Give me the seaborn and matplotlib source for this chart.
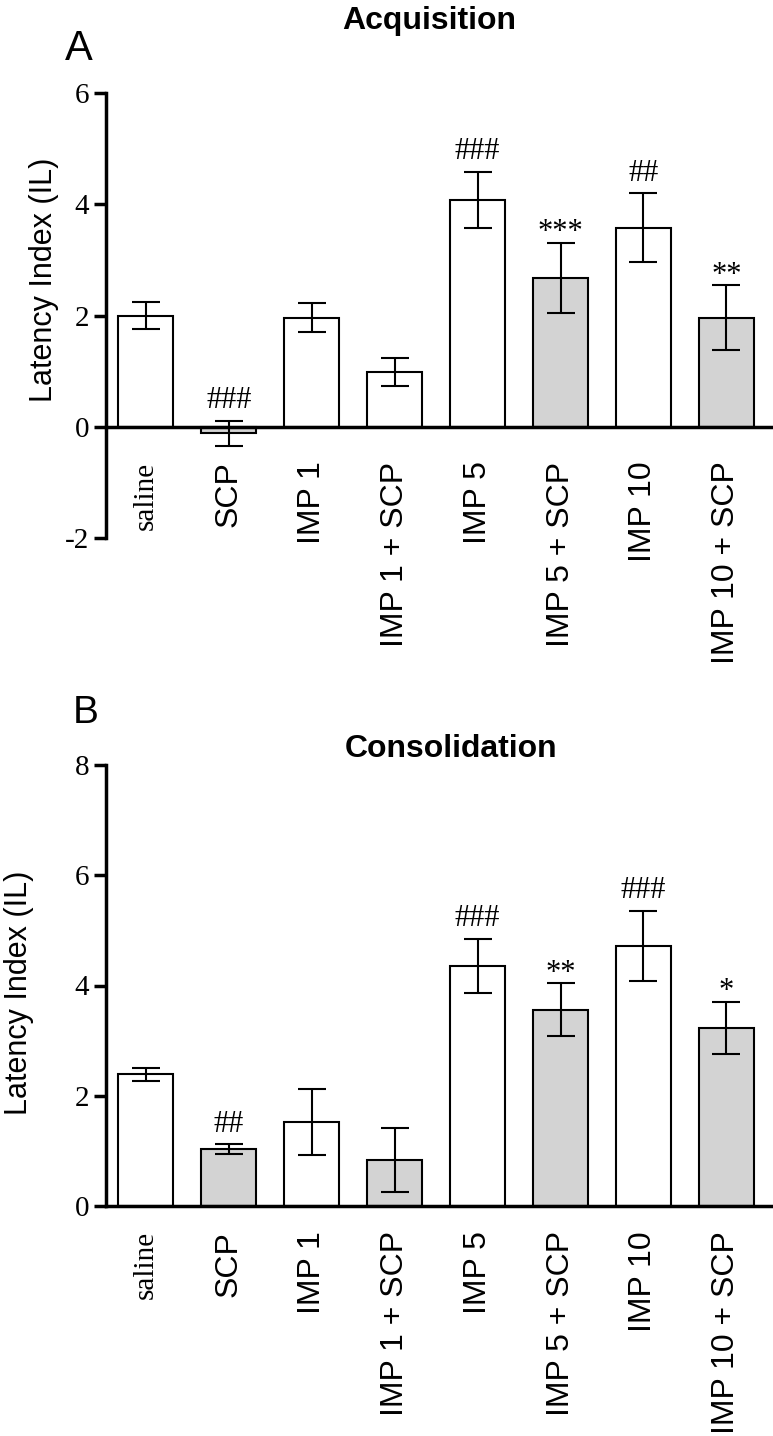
import matplotlib
matplotlib.use("Agg")
import matplotlib.pyplot as plt
import seaborn as sns
import pandas as pd
import numpy as np

# ---------------- data ----------------
groups = ["saline", "SCP", "IMP 1", "IMP 1 + SCP", "IMP 5", "IMP 5 + SCP",
          "IMP 10", "IMP 10 + SCP"]

acq_mean = [2.00, -0.12, 1.96, 0.99, 4.08, 2.68, 3.58, 1.96]
acq_sem = [0.24, 0.23, 0.26, 0.25, 0.50, 0.63, 0.62, 0.58]
acq_marks = ["", "###", "", "", "###", "***", "##", "**"]
acq_fill = ["white", "lightgray", "white", "white", "white", "lightgray",
            "white", "lightgray"]

con_mean = [2.39, 1.03, 1.52, 0.83, 4.36, 3.56, 4.72, 3.23]
con_sem = [0.12, 0.09, 0.60, 0.58, 0.49, 0.48, 0.64, 0.47]
con_marks = ["", "##", "", "", "###", "**", "###", "*"]
con_fill = ["white", "lightgray", "white", "lightgray", "white", "lightgray",
            "white", "lightgray"]

acq_yticks = [-2, 0, 2, 4, 6]
con_yticks = [0, 2, 4, 6, 8]

# ---------------- style ----------------
sns.set_theme(style="white")
plt.rcParams["font.family"] = ["Liberation Sans", "DejaVu Sans"]
for k in ["text.color", "axes.labelcolor", "xtick.color", "ytick.color",
          "axes.edgecolor"]:
    plt.rcParams[k] = "black"
SERIF = ["Liberation Serif", "DejaVu Serif"]
SANS = ["Liberation Sans", "DejaVu Sans"]

W, H = 773, 1436
fig = plt.figure(figsize=(W / 100, H / 100), dpi=100)


def fx(px):
    return px / W


def fy(py):
    return 1 - py / H


def panel(rect, means, sems, marks, fills, ylim, yticks, xpad):
    ax = fig.add_axes(rect)
    df = pd.DataFrame({"group": groups, "mean": means})
    sns.barplot(data=df, x="group", y="mean", hue="group", order=groups,
                hue_order=groups, palette=dict(zip(groups, fills)),
                legend=False, saturation=1, width=0.66, edgecolor="black",
                linewidth=1.5, errorbar=None, ax=ax, zorder=2)
    pos = np.arange(len(groups))
    ax.errorbar(pos, means, yerr=sems, fmt="none", ecolor="black",
                elinewidth=1.5, capsize=10, capthick=1.5, zorder=3)
    for x, m, s, t in zip(pos, means, sems, marks):
        if not t:
            continue
        off = 9 if "#" in t else 2
        ax.annotate(t, (x, m + s), xytext=(0, off), textcoords="offset points",
                    ha="center", va="baseline", fontsize=22, family=SERIF,
                    color="black")
    ax.set_xlim(-0.48, 7.55)
    ax.set_ylim(*ylim)
    ax.set_yticks(yticks)
    ax.set_yticklabels([str(v) for v in yticks], family=SERIF, fontsize=21)
    ax.set_xlabel("")
    ax.set_ylabel("")
    for s in ["top", "right"]:
        ax.spines[s].set_visible(False)
    ax.spines["bottom"].set_position(("data", 0))
    for s in ["left", "bottom"]:
        ax.spines[s].set_linewidth(2.5)
        ax.spines[s].set_color("black")
        ax.spines[s].set_zorder(4)
    ax.tick_params(axis="x", length=0, pad=xpad, colors="black",
                   labelrotation=90, labelsize=23)
    ax.tick_params(axis="y", length=9, width=2.5, direction="out", pad=3,
                   colors="black", left=True)
    ax.set_facecolor("white")
    return ax


# Panel A
axA = panel([fx(106), fy(538), fx(772) - fx(106), fy(93) - fy(538)],
            acq_mean, acq_sem, acq_marks, acq_fill, (-2, 6), acq_yticks, 25)
# Panel B
axB = panel([fx(106), fy(1206), fx(772) - fx(106), fy(765) - fy(1206)],
            con_mean, con_sem, con_marks, con_fill, (0, 8), con_yticks, 18)

fig.text(fx(429), fy(29), "Acquisition", ha="center", va="baseline",
         fontsize=23, fontweight="bold", family=SANS)
fig.text(fx(451), fy(757), "Consolidation", ha="center", va="baseline",
         fontsize=23, fontweight="bold", family=SANS)
fig.text(fx(65), fy(60), "A", ha="left", va="baseline", fontsize=30,
         family=SANS)
fig.text(fx(73), fy(723), "B", ha="left", va="baseline", fontsize=28,
         family=SANS)
fig.text(fx(44), fy(280), "Latency Index (IL)", rotation=90, ha="center",
         va="center", fontsize=22, family=SANS)
fig.text(fx(19), fy(993), "Latency Index (IL)", rotation=90, ha="center",
         va="center", fontsize=22, family=SANS)

fig.canvas.draw()
for ax in (axA, axB):
    for lab in ax.get_xticklabels():
        lab.set_va("top")
        lab.set_ha("center")
        if lab.get_text() == "saline":
            lab.set_family(SERIF)
            lab.set_fontsize(21)
        else:
            lab.set_family(SANS)
    for lab in ax.get_yticklabels():
        lab.set_family(SERIF)
        lab.set_fontsize(21)

fig.savefig("out.png", dpi=100, facecolor="white")
